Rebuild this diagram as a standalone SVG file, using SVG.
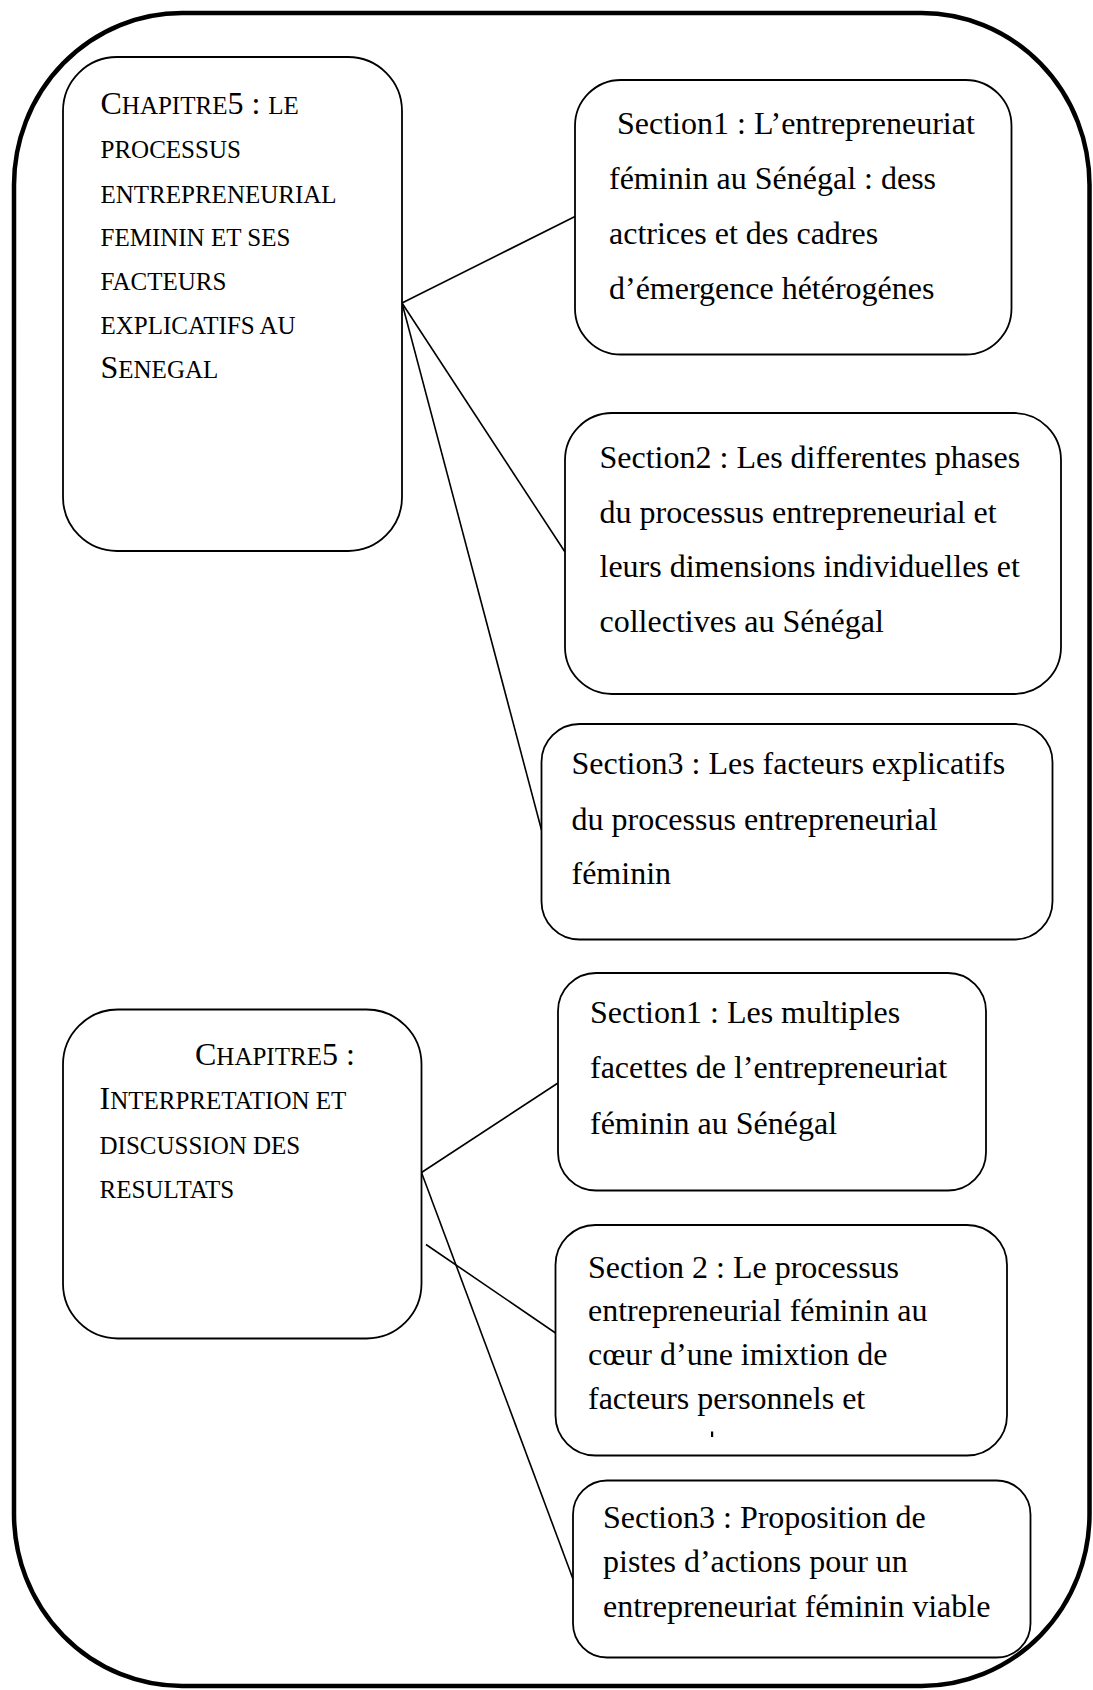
<svg xmlns="http://www.w3.org/2000/svg" width="1093" height="1690" viewBox="0 0 1093 1690">
  <style>
    .frame { fill: none; stroke: #000; stroke-width: 4.5; }
    .box { fill: #fff; stroke: #000; stroke-width: 1.8; }
    .link { stroke: #000; stroke-width: 1.6; fill: none; }
    .t { font-family: "Liberation Serif", "Times New Roman", serif; font-size: 32px; fill: #000; }
    .sc { font-size: 25px; }
  </style>
  <rect width="1093" height="1690" fill="#fff"/>

  <!-- outer rounded frame -->
  <rect class="frame" x="14" y="13" width="1075.5" height="1673" rx="168" ry="172"/>

  <!-- connectors -->
  <g id="connectors">
    <line class="link" x1="402" y1="303" x2="575" y2="216.5"/>
    <line class="link" x1="402" y1="303" x2="565" y2="552"/>
    <line class="link" x1="402" y1="303" x2="541.5" y2="830"/>
    <line class="link" x1="421.5" y1="1172.5" x2="558" y2="1083"/>
    <line class="link" x1="421.5" y1="1172.5" x2="573" y2="1579"/>
    <line class="link" x1="426" y1="1244.5" x2="555.5" y2="1333"/>
  </g>

  <!-- chapter 5: entrepreneurial process -->
  <g id="chapter-process">
    <rect class="box" x="63" y="57" width="339" height="494" rx="54" ry="54"/>
    <text class="t" x="100.5" y="114">C<tspan class="sc">HAPITRE</tspan>5 : <tspan class="sc">LE</tspan></text>
    <text class="t sc" x="100.5" y="158">PROCESSUS</text>
    <text class="t sc" x="100.5" y="203">ENTREPRENEURIAL</text>
    <text class="t sc" x="100.5" y="246">FEMININ ET SES</text>
    <text class="t sc" x="100.5" y="290">FACTEURS</text>
    <text class="t sc" x="100.5" y="334">EXPLICATIFS AU</text>
    <text class="t" x="100.5" y="378">S<tspan class="sc">ENEGAL</tspan></text>
  </g>

  <g id="p-section1">
    <rect class="box" x="575" y="80" width="436.5" height="274.5" rx="46" ry="46"/>
    <text class="t" x="617" y="134">Section1 : L’entrepreneuriat</text>
    <text class="t" x="609" y="189">féminin au Sénégal : dess</text>
    <text class="t" x="609" y="244">actrices et des cadres</text>
    <text class="t" x="609" y="299">d’émergence hétérogénes</text>
  </g>

  <g id="p-section2">
    <rect class="box" x="565" y="413" width="496" height="281" rx="47" ry="47"/>
    <text class="t" x="599.5" y="468">Section2 : Les differentes phases</text>
    <text class="t" x="599.5" y="522.5">du processus entrepreneurial et</text>
    <text class="t" x="599.5" y="577">leurs dimensions individuelles et</text>
    <text class="t" x="599.5" y="632">collectives au Sénégal</text>
  </g>

  <g id="p-section3">
    <rect class="box" x="541.5" y="724" width="511" height="215.5" rx="38" ry="38"/>
    <text class="t" x="571.5" y="774">Section3 : Les facteurs explicatifs</text>
    <text class="t" x="571.5" y="829.5">du processus entrepreneurial</text>
    <text class="t" x="571.5" y="884">féminin</text>
  </g>

  <!-- chapter 5: interpretation and discussion -->
  <g id="chapter-discussion">
    <rect class="box" x="63" y="1009.5" width="358.5" height="329" rx="55" ry="55"/>
    <text class="t" x="195" y="1065">C<tspan class="sc">HAPITRE</tspan>5 :</text>
    <text class="t" x="99.5" y="1109">I<tspan class="sc">NTERPRETATION ET</tspan></text>
    <text class="t sc" x="99.5" y="1154">DISCUSSION DES</text>
    <text class="t sc" x="99.5" y="1198">RESULTATS</text>
  </g>

  <g id="d-section1">
    <rect class="box" x="558" y="973" width="428" height="217.5" rx="38" ry="38"/>
    <text class="t" x="590" y="1023">Section1 : Les multiples</text>
    <text class="t" x="590" y="1078">facettes de l’entrepreneuriat</text>
    <text class="t" x="590" y="1134">féminin au Sénégal</text>
  </g>

  <g id="d-section2">
    <rect class="box" x="555.5" y="1225" width="451.5" height="230.5" rx="40" ry="40"/>
    <text class="t" x="588" y="1277.5">Section 2 : Le processus</text>
    <text class="t" x="588" y="1321">entrepreneurial féminin au</text>
    <text class="t" x="588" y="1365">cœur d’une imixtion de</text>
    <text class="t" x="588" y="1409">facteurs personnels et</text>
    <rect x="711" y="1431.5" width="2.2" height="5.5" fill="#000"/>
  </g>

  <g id="d-section3">
    <rect class="box" x="573" y="1480.5" width="457.5" height="177" rx="34" ry="34"/>
    <text class="t" x="603" y="1528">Section3 : Proposition de</text>
    <text class="t" x="603" y="1572">pistes d’actions pour un</text>
    <text class="t" x="603" y="1617">entrepreneuriat féminin viable</text>
  </g>
</svg>
